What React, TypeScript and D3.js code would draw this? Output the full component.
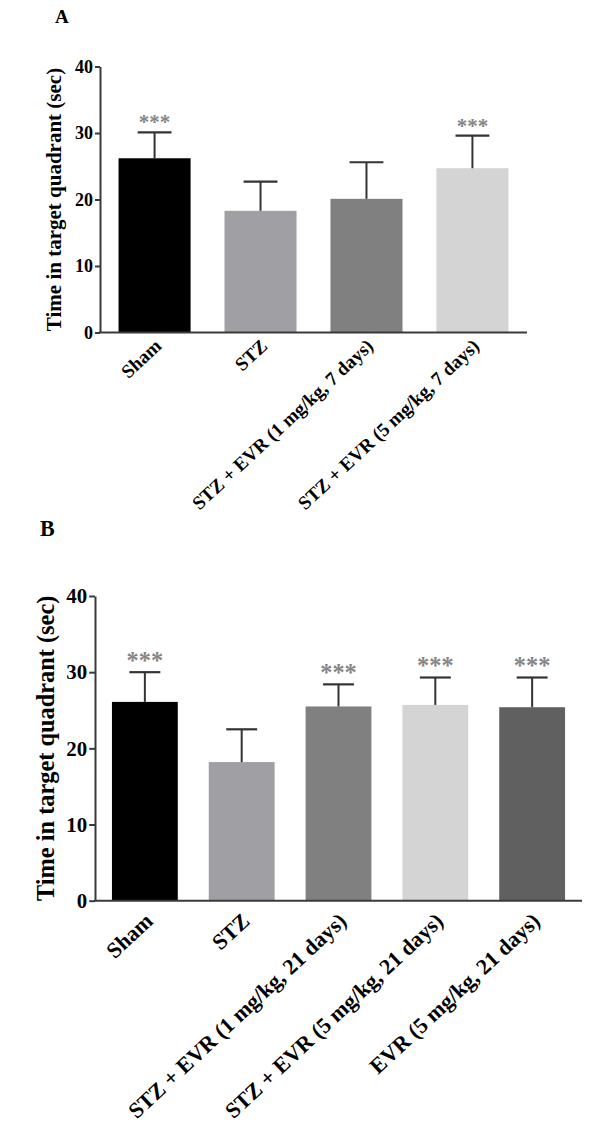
import { useEffect, useRef } from 'react'
import * as d3 from 'd3'

// panel A: 7 day treatment
const groupsA = ['Sham', 'STZ', 'STZ + EVR (1 mg/kg, 7 days)', 'STZ + EVR (5 mg/kg, 7 days)']
const meansA = [26.2, 18.3, 20.1, 24.7]
const semA = [3.9, 4.4, 5.5, 4.9]
const starsA = ['***', '', '', '***']
const fillsA = ['#000000', '#a0a0a4', '#808080', '#d4d4d4']

// panel B: 21 day treatment
const groupsB = ['Sham', 'STZ', 'STZ + EVR (1 mg/kg, 21 days)', 'STZ + EVR (5 mg/kg, 21 days)', 'EVR (5 mg/kg, 21 days)']
const meansB = [26.1, 18.2, 25.5, 25.7, 25.4]
const semB = [3.9, 4.3, 2.9, 3.6, 3.9]
const starsB = ['***', '', '***', '***', '***']
const fillsB = ['#000000', '#a0a0a4', '#808080', '#d4d4d4', '#606060']

const yTicks = [0, 10, 20, 30, 40]
const yTitle = 'Time in target quadrant (sec)'
const FONT = '"Liberation Serif", "Times New Roman", serif'

type Panel = {
  letter: string
  groups: string[]
  means: number[]
  sem: number[]
  stars: string[]
  fills: string[]
  x0: number; x1: number; y0: number; y1: number
  k: number // font scale
  letterPos: [number, number]
  titleX: number
  labelDy: number
}

const panels: Panel[] = [
  { letter: 'A', groups: groupsA, means: meansA, sem: semA, stars: starsA, fills: fillsA,
    x0: 100, x1: 527, y0: 332.5, y1: 66.5, k: 1, letterPos: [55, 23], titleX: 61, labelDy: 15 },
  { letter: 'B', groups: groupsB, means: meansB, sem: semB, stars: starsB, fills: fillsB,
    x0: 95, x1: 582, y0: 900.7, y1: 596, k: 1.16, letterPos: [40, 536], titleX: 54, labelDy: 22 },
]

function draw(root: SVGSVGElement) {
  const svg = d3.select(root)
  svg.selectAll('*').remove()
  panels.forEach(p => {
    const g = svg.append('g')
    const x = d3.scaleBand<string>().domain(p.groups).range([p.x0, p.x1]).paddingInner(0.32).paddingOuter(0.175)
    const y = d3.scaleLinear().domain([0, 40]).range([p.y0, p.y1])
    const bw = x.bandwidth()

    g.append('text').attr('x', p.letterPos[0]).attr('y', p.letterPos[1])
      .style('font-family', FONT).style('font-weight', 'bold').style('font-size', `${19 * p.k}px`).text(p.letter)

    // bars
    g.selectAll('rect.bar').data(p.groups).join('rect').attr('class', 'bar')
      .attr('x', d => x(d)!).attr('width', bw)
      .attr('y', (_, i) => y(p.means[i])).attr('height', (_, i) => p.y0 - y(p.means[i]))
      .attr('fill', (_, i) => p.fills[i])

    // error bars (upper only)
    const cap = bw * 0.47
    p.groups.forEach((d, i) => {
      const cx = x(d)! + bw / 2
      const top = y(p.means[i] + p.sem[i])
      g.append('line').attr('x1', cx).attr('x2', cx).attr('y1', y(p.means[i])).attr('y2', top)
        .attr('stroke', '#333').attr('stroke-width', 2)
      g.append('line').attr('x1', cx - cap / 2).attr('x2', cx + cap / 2).attr('y1', top).attr('y2', top)
        .attr('stroke', '#333').attr('stroke-width', 2.2)
      if (p.stars[i]) {
        g.append('text').attr('x', cx).attr('y', top - 3 * p.k).attr('text-anchor', 'middle')
          .style('font-family', FONT).style('font-weight', 'bold').style('font-size', `${21 * p.k}px`)
          .attr('fill', '#858585').text(p.stars[i])
      }
    })

    // y axis
    const ya = g.append('g').attr('transform', `translate(${p.x0},0)`)
      .call(d3.axisLeft(y).tickValues(yTicks).tickSize(5 * p.k).tickSizeOuter(0).tickPadding(2))
    ya.select('.domain').attr('stroke', '#3a3a3a').attr('stroke-width', 2)
    ya.selectAll('.tick line').attr('stroke', '#3a3a3a').attr('stroke-width', 2)
    ya.selectAll('.tick text').attr('fill', '#000').style('font-family', FONT)
      .style('font-weight', 'bold').style('font-size', `${18 * p.k}px`)

    // x axis
    g.append('line').attr('x1', p.x0 - 1).attr('x2', p.x1).attr('y1', p.y0).attr('y2', p.y0)
      .attr('stroke', '#3a3a3a').attr('stroke-width', 2)

    // category labels
    p.groups.forEach(d => {
      const cx = x(d)! + bw / 2
      g.append('text')
        .attr('transform', `translate(${cx + 8 * p.k},${p.y0 + p.labelDy}) rotate(-43)`)
        .attr('text-anchor', 'end')
        .style('font-family', FONT).style('font-weight', 'bold').style('font-size', `${19 * p.k}px`)
        .text(d)
    })

    // y title
    g.append('text')
      .attr('transform', `translate(${p.titleX},${(p.y0 + p.y1) / 2}) rotate(-90)`)
      .attr('text-anchor', 'middle')
      .style('font-family', FONT).style('font-weight', 'bold').style('font-size', `${21 * p.k}px`)
      .text(yTitle)
  })
}

export default function App() {
  const ref = useRef<SVGSVGElement>(null)
  useEffect(() => {
    if (ref.current) draw(ref.current)
  }, [])
  return (
    <div>
      <svg ref={ref} width={608} height={1139} style={{ position: 'absolute', left: 0, top: 0, background: '#fff' }} />
    </div>
  )
}
